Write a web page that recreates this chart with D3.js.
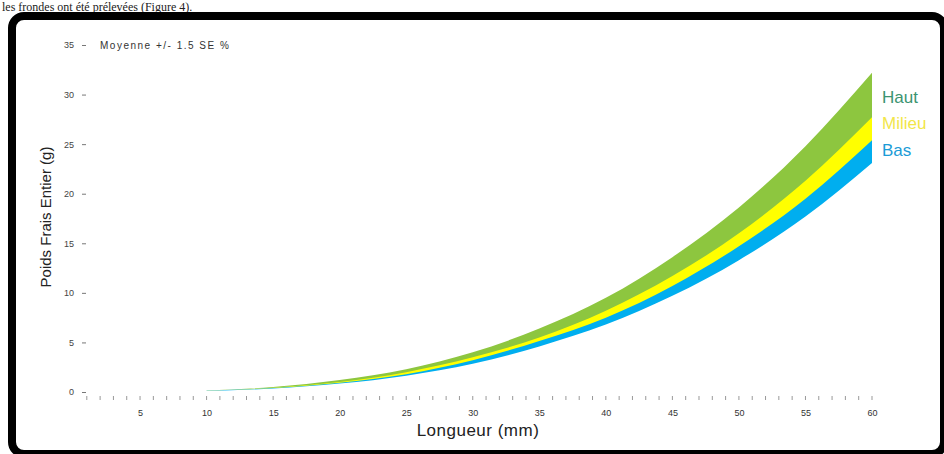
<!DOCTYPE html>
<html>
<head>
<meta charset="utf-8">
<script src="https://cdn.jsdelivr.net/npm/d3@7"></script>
<style>
  body { margin: 0; background: #fff; }
  svg { display: block; }
</style>
</head>
<body>
<div id="chart"></div>
<script>
var longueur = [10, 15, 20, 25, 30, 35, 40, 45, 50, 55, 60];

// bandes (g)
var hautHaut = [0.15, 0.5, 1.2, 2.3, 4.0, 6.4, 9.5, 13.6, 18.6, 24.8, 32.2];
var hautBas  = [0.13, 0.43, 1.0, 2.0, 3.5, 5.5, 8.2, 11.7, 16.0, 21.3, 27.7];
var milieuHaut = [0.13, 0.45, 1.1, 2.1, 3.7, 5.9, 8.7, 12.4, 17.1, 22.7, 29.5];
var milieuBas  = [0.12, 0.4, 0.94, 1.8, 3.2, 5.15, 7.5, 10.7, 14.7, 19.5, 25.4];
var basHaut = [0.12, 0.42, 1.0, 1.95, 3.4, 5.4, 8.0, 11.4, 15.6, 20.8, 27.0];
var basBas  = [0.1, 0.35, 0.85, 1.65, 2.85, 4.6, 6.8, 9.7, 13.3, 17.7, 23.1];

var xTicks = [5, 10, 15, 20, 25, 30, 35, 40, 45, 50, 55, 60];
var yTicks = [0, 5, 10, 15, 20, 25, 30, 35];

var series = [
  {nom: "Bas", haut: basHaut, bas: basBas, fill: "#00aeef", text: "#1b9bd6", ty: 150},
  {nom: "Milieu", haut: milieuHaut, bas: milieuBas, fill: "#ffff00", text: "#f2e64a", ty: 123},
  {nom: "Haut", haut: hautHaut, bas: hautBas, fill: "#8dc63f", text: "#3b9470", ty: 97}
];

var width = 944, height = 454;

var svg = d3.select("#chart").append("svg")
  .attr("width", width)
  .attr("height", height);

// ligne de texte au-dessus du cadre
svg.append("text")
  .attr("x", 2).attr("y", 11)
  .attr("font-family", "Liberation Serif, serif")
  .attr("font-size", 12)
  .attr("fill", "#222")
  .text("les frondes ont été prélevées (Figure 4).");

// cadre
svg.append("rect")
  .attr("x", 12).attr("y", 16)
  .attr("width", 932).attr("height", 438)
  .attr("rx", 12)
  .attr("fill", "#fff")
  .attr("stroke", "#000")
  .attr("stroke-width", 8);

var x = d3.scaleLinear().domain([0, 60]).range([73.5, 872]);
var y = d3.scaleLinear().domain([0, 35]).range([392, 45]);

var area = d3.area()
  .x(function(d) { return x(d.l); })
  .y0(function(d) { return y(d.b); })
  .y1(function(d) { return y(d.h); })
  .curve(d3.curveMonotoneX);

series.forEach(function(s) {
  var pts = longueur.map(function(l, i) { return {l: l, h: s.haut[i], b: s.bas[i]}; });
  svg.append("path")
    .datum(pts)
    .attr("d", area)
    .attr("fill", s.fill);
  svg.append("text")
    .attr("x", 882).attr("y", s.ty)
    .attr("dy", "0.35em")
    .attr("font-family", "Liberation Sans, Arial, sans-serif")
    .attr("font-size", 17)
    .attr("fill", s.text)
    .text(s.nom);
});

// axe y
var yAxis = svg.append("g")
  .attr("transform", "translate(86,0)")
  .call(d3.axisLeft(y).tickValues(yTicks).tickSize(4).tickPadding(8));
yAxis.select(".domain").remove();
yAxis.selectAll(".tick line").attr("stroke", "#777");
yAxis.selectAll("text")
  .attr("font-family", "Liberation Sans, Arial, sans-serif")
  .attr("font-size", 9)
  .attr("fill", "#444");

// axe x : petites graduations
var minor = d3.range(1, 61);
svg.append("g").selectAll("line")
  .data(minor)
  .enter().append("line")
  .attr("x1", function(d) { return x(d); })
  .attr("x2", function(d) { return x(d); })
  .attr("y1", 396).attr("y2", 400)
  .attr("stroke", "#999")
  .attr("stroke-width", 1);

var xAxis = svg.append("g")
  .attr("transform", "translate(0,400)")
  .call(d3.axisBottom(x).tickValues(xTicks).tickSize(0).tickPadding(10));
xAxis.select(".domain").remove();
xAxis.selectAll("text")
  .attr("font-family", "Liberation Sans, Arial, sans-serif")
  .attr("font-size", 9)
  .attr("fill", "#333");

// titres
svg.append("text")
  .attr("x", 478).attr("y", 436)
  .attr("text-anchor", "middle")
  .attr("font-family", "Liberation Sans, Arial, sans-serif")
  .attr("font-size", 17)
  .attr("letter-spacing", 0.5)
  .attr("fill", "#222")
  .text("Longueur (mm)");

svg.append("text")
  .attr("transform", "translate(51,217) rotate(-90)")
  .attr("text-anchor", "middle")
  .attr("font-family", "Liberation Sans, Arial, sans-serif")
  .attr("font-size", 15)
  .attr("fill", "#222")
  .text("Poids Frais Entier (g)");

svg.append("text")
  .attr("x", 100).attr("y", 45)
  .attr("dy", "0.35em")
  .attr("font-family", "Liberation Sans, Arial, sans-serif")
  .attr("font-size", 10)
  .attr("letter-spacing", 1.5)
  .attr("fill", "#333")
  .text("Moyenne +/- 1.5 SE %");
</script>
</body>
</html>
